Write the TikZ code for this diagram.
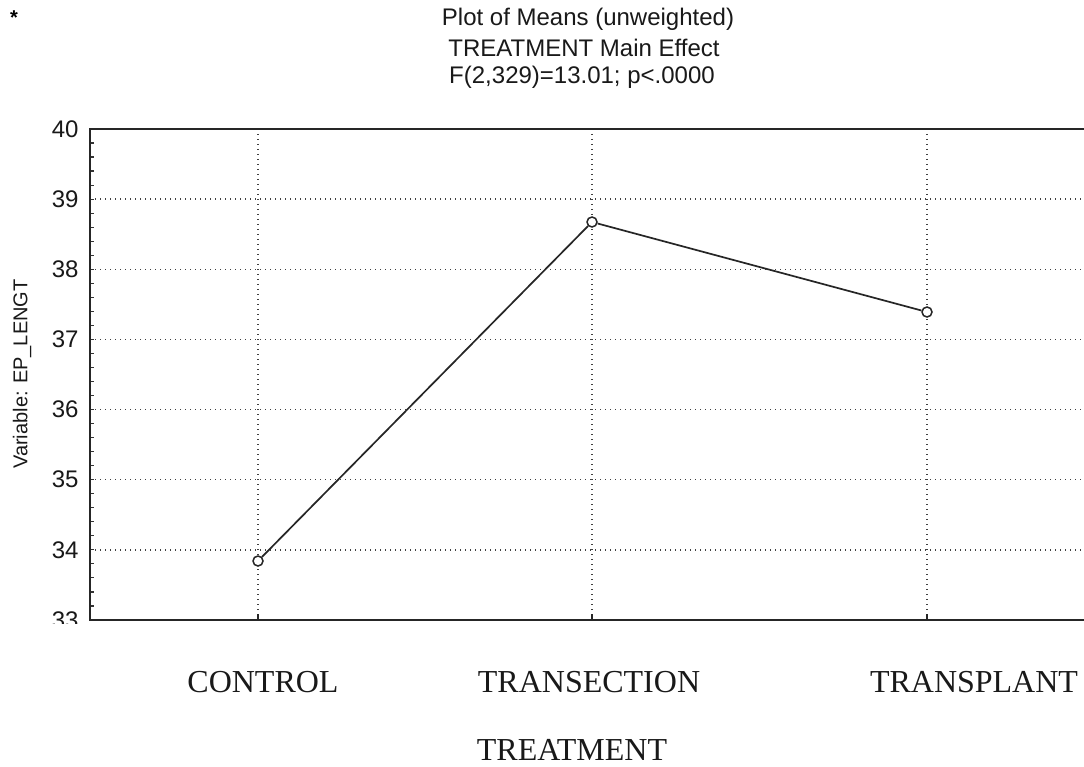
\documentclass[tikz,border=0pt]{standalone}
\usepackage{fontspec}
\setmainfont{Liberation Serif}
\setsansfont{Liberation Sans}
\begin{document}
\begin{tikzpicture}[x=1pt,y=-1pt,
  axisline/.style={line width=2pt,black!85},
  gridline/.style={line width=1.5pt,black!75,dash pattern=on 1.4pt off 3.6pt},
  dataline/.style={line width=1.7pt,black!85},
  pt/.style={circle,draw=black!85,line width=1.5pt,fill=white,inner sep=0pt,minimum size=10pt},
  title/.style={font=\sffamily\fontsize{24}{28}\selectfont,text=black!90},
  ticklab/.style={font=\sffamily\fontsize{24}{28}\selectfont,anchor=east,text=black!90},
  catlab/.style={font=\rmfamily\fontsize{32}{36}\selectfont,text=black!90}
]
\useasboundingbox (0,0) rectangle (1084,767);
\fill[white] (0,0) rectangle (1084,767);
% star
\node[font=\sffamily\bfseries\fontsize{20}{20}\selectfont] (star) at (14,18) {*};
% titles
\node[title] (t1) at (588,19) {Plot of Means (unweighted)};
\node[title] (t2) at (584,48) {TREATMENT Main Effect};
\node[title] (t3) at (582,77) {F(2,329)=13.01; p<.0000};
% grid horizontal
\foreach \v in {34,...,39}{
  \draw[gridline] (90,{129+(40-\v)*70.14}) -- (1084,{129+(40-\v)*70.14});
}
% grid vertical
\foreach \gx in {258,592,927}{
  \draw[gridline] (\gx,129) -- (\gx,620);
  \draw[line width=1.4pt,black!85] (\gx,620) -- (\gx,614);
}
% minor ticks left
\foreach \k in {1,...,34}{
  \draw[line width=1.2pt,black!80] (90,{129+\k*0.2*70.14}) -- (94,{129+\k*0.2*70.14});
}
% axes
\draw[axisline] (1084,129) -- (90,129) -- (90,620) -- (1084,620);
% tick labels
\begin{scope}
\clip (0,0) rectangle (88,623);
\foreach \v in {33,...,40}{
  \node[ticklab] (tl\v) at (82,{129+(40-\v)*70.14}) {\v};
}
\end{scope}
% y label
\node[font=\sffamily\fontsize{20}{24}\selectfont,rotate=90,text=black!90] (ylab) at (22,374) {Variable: EP\_LENGT};
% data
\node[pt] (p1) at (258,561) {};
\node[pt] (p2) at (592,222) {};
\node[pt] (p3) at (927,312) {};
\draw[dataline] (p1) -- (p2) -- (p3);
% category labels
\node[catlab] (c1) at (263,682) {CONTROL};
\node[catlab] (c2) at (589,682) {TRANSECTION};
\node[catlab] (c3) at (974,682) {TRANSPLANT};
\node[catlab] (xlab) at (572,750) {TREATMENT};
\end{tikzpicture}
\end{document}
